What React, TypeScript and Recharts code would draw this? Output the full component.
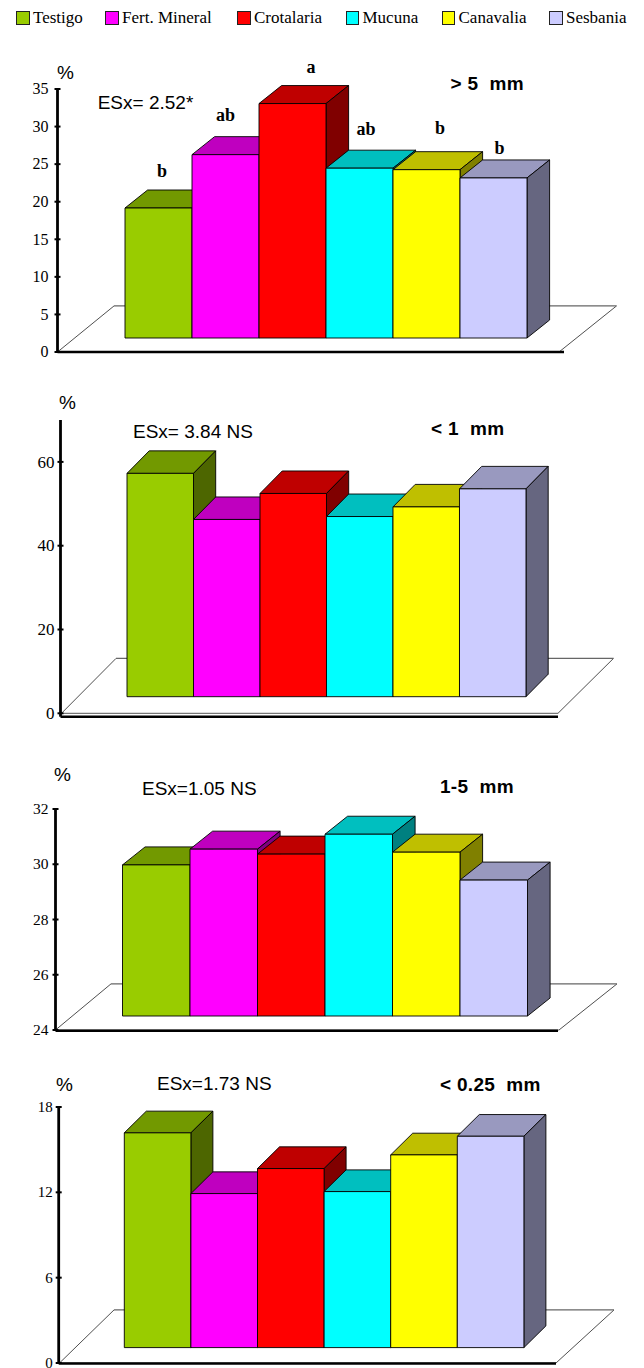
import React from 'react';
import { Bar, BarChart, LabelList, ReferenceArea, XAxis, YAxis } from 'recharts';

const seriesNames = ['Testigo', 'Fert. Mineral', 'Crotalaria', 'Mucuna', 'Canavalia', 'Sesbania'];
const frontColors = ['#99cc00', '#ff00ff', '#ff0000', '#00ffff', '#ffff00', '#ccccff'];
const topColors = ['#729900', '#bf00bf', '#bf0000', '#00bfbf', '#bfbf00', '#9999bf'];
const sideColors = ['#4d6600', '#800080', '#800000', '#008080', '#808000', '#666680'];

const over5mmValues = [17.3, 24.4, 31.2, 22.6, 22.4, 21.3];
const under1mmValues = [53.3, 42.3, 48.5, 43.0, 45.3, 49.6];
const from1to5mmValues = [29.47, 30.04, 29.86, 30.58, 29.93, 28.92];
const under025mmValues = [15.1, 10.83, 12.59, 10.97, 13.55, 14.86];

const over5mmTicks = [0, 5, 10, 15, 20, 25, 30, 35];
const under1mmTicks = [0, 20, 40, 60];
const from1to5mmTicks = [24, 26, 28, 30, 32];
const under025mmTicks = [0, 6, 12, 18];

const sigLetters = ['b', 'ab', 'a', 'ab', 'b', 'b'];
const sigOffsets = [[3.5, -18], [0, -21], [18.5, -18], [6.5, -20], [13.5, -23], [6, -11]];

const legendX = [16, 105, 237, 345.5, 441.5, 549];

const panels = [
  {
    values: over5mmValues, ticks: over5mmTicks, domain: [0, 35], floorTo: 6.13, axisX: 57.5, yTop: 89, yBottom: 352,
    barLeft: 124, barSize: 67, plotRight: 564, lift: 14, dx: 22.6, dy: 18, axisDrop: 0,
    floorFront: [57.5, 559], floorBack: [114, 616.5], tickFont: 16, tickGap: 9, sig: true,
    pct: [66, 72], es: 'ESx= 2.52*', esAt: [97.7, 102], title: '> 5 mm', titleAt: [450.5, 83],
  },
  {
    values: under1mmValues, ticks: under1mmTicks, domain: [0, 70], floorTo: 13.1, axisX: 60.5, yTop: 420, yBottom: 713.3,
    barLeft: 126, barSize: 66.5, plotRight: 558, lift: 16.6, dx: 22.2, dy: 22.5, axisDrop: 3.4,
    floorFront: [61.5, 558], floorBack: [116, 613.5], tickFont: 17, tickGap: 6, sig: false,
    pct: [68, 402], es: 'ESx= 3.84 NS', esAt: [133, 431], title: '< 1 mm', titleAt: [431, 428],
  },
  {
    values: from1to5mmValues, ticks: from1to5mmTicks, domain: [24, 32], floorTo: 25.67, axisX: 55.5, yTop: 809, yBottom: 1030,
    barLeft: 121.5, barSize: 67.5, plotRight: 558, lift: 14, dx: 22.6, dy: 18, axisDrop: 0.7,
    floorFront: [55.5, 559], floorBack: [111, 617], tickFont: 15.5, tickGap: 7, sig: false,
    pct: [63, 774], es: 'ESx=1.05 NS', esAt: [142, 788], title: '1-5 mm', titleAt: [440, 786],
  },
  {
    values: under025mmValues, ticks: under025mmTicks, domain: [0, 18], floorTo: 3.73, axisX: 58.7, yTop: 1106.7, yBottom: 1362.7,
    barLeft: 124.3, barSize: 66.6, plotRight: 556, lift: 15.4, dx: 22, dy: 21.7, axisDrop: 0.5,
    floorFront: [59.5, 556], floorBack: [114, 614], tickFont: 15, tickGap: 6, sig: false,
    pct: [65, 1084], es: 'ESx=1.73 NS', esAt: [157, 1083], title: '< 0.25 mm', titleAt: [440, 1084],
  },
];

const SERIF = '"Liberation Serif", serif';
const SANS = '"Liberation Sans", sans-serif';

const makeBox = (lift: number, dx: number, dy: number, i: number) => (props: any) => {
  const { x, y, width, height } = props;
  const top = y - lift;
  const base = y + height - lift;
  const right = x + width;
  return (
    <g stroke="#000" strokeWidth={0.9} strokeLinejoin="round">
      <polygon points={`${x},${top} ${x + dx},${top - dy} ${right + dx},${top - dy} ${right},${top}`} fill={topColors[i]} />
      <polygon points={`${right},${top} ${right + dx},${top - dy} ${right + dx},${base - dy} ${right},${base}`} fill={sideColors[i]} />
      <rect x={x} y={top} width={width} height={height} fill={frontColors[i]} />
    </g>
  );
};

const makeFloor = (front: number[], back: number[], axisX: number, drop: number) => (props: any) => {
  const { y, height } = props;
  const bottom = y + height;
  return (
    <g>
      <polygon points={`${front[0]},${bottom} ${back[0]},${y} ${back[1]},${y} ${front[1]},${bottom}`} fill="#fff" />
      <line x1={front[0]} y1={bottom} x2={back[0]} y2={y} stroke="#222" strokeWidth={0.8} />
      <line x1={front[1]} y1={bottom} x2={back[1]} y2={y} stroke="#222" strokeWidth={0.8} />
      <line x1={back[0]} y1={y} x2={back[1]} y2={y} stroke="#666" strokeWidth={1.2} />
      <line x1={front[0]} y1={bottom} x2={front[1]} y2={bottom} stroke="#777" strokeWidth={1.2} />
      <line x1={axisX} y1={bottom} x2={axisX} y2={bottom + drop} stroke="#000" strokeWidth={2.8} />
    </g>
  );
};

const makeTick = (axisX: number, gap: number, fontSize: number) => (props: any) => {
  const { y, payload } = props;
  return (
    <g>
      <line x1={axisX - 3} x2={axisX + 3} y1={y} y2={y} stroke="#000" strokeWidth={2} />
      <text x={axisX - gap} y={y + fontSize * 0.33} textAnchor="end" fontFamily={SERIF} fontSize={fontSize} fill="#000">
        {payload.value}
      </text>
    </g>
  );
};

const makeSig = (i: number, lift: number, dy: number) => (props: any) => {
  const { x, y, width } = props;
  return (
    <text
      x={x + width / 2 + sigOffsets[i][0]}
      y={y - lift - dy + sigOffsets[i][1] + 5}
      textAnchor="middle"
      fontFamily={SERIF}
      fontWeight="bold"
      fontSize={18}
      fill="#000"
    >
      {sigLetters[i]}
    </text>
  );
};

const Panel = ({ p }: { p: (typeof panels)[number] }) => {
  const top = p.yTop - 50;
  const height = p.yBottom - top + 12;
  const row: Record<string, any> = { name: p.title };
  seriesNames.forEach((n, i) => (row[n] = p.values[i]));
  // band has to be a bit wider than the six bars or recharts shrinks them
  const barRight = p.barLeft + p.barSize * 6 + 1;
  return (
    <div style={{ position: 'absolute', left: 0, top }}>
      <BarChart
        width={644}
        height={height}
        data={[row]}
        barGap={0}
        barCategoryGap={0}
        margin={{ top: 50, right: 644 - p.plotRight, bottom: 11, left: 0 }}
        style={{ overflow: 'visible' }}
      >
        <XAxis
          dataKey="name"
          height={1}
          tick={false}
          tickLine={false}
          axisLine={{ stroke: '#000', strokeWidth: 2.6, transform: `translate(0 ${p.axisDrop})` }}
          padding={{ left: p.barLeft - p.axisX, right: p.plotRight - barRight }}
        />
        <YAxis
          width={p.axisX}
          domain={p.domain}
          ticks={p.ticks}
          interval={0}
          tickLine={false}
          axisLine={{ stroke: '#000', strokeWidth: 2.8 }}
          tick={makeTick(p.axisX, p.tickGap, p.tickFont)}
        />
        <ReferenceArea y1={p.domain[0]} y2={p.floorTo} shape={makeFloor(p.floorFront, p.floorBack, p.axisX, p.axisDrop)} />
        {seriesNames.map((n, i) => (
          <Bar key={n} dataKey={n} barSize={p.barSize} isAnimationActive={false} shape={makeBox(p.lift, p.dx, p.dy, i)}>
            {p.sig ? <LabelList dataKey={n} content={makeSig(i, p.lift, p.dy)} /> : null}
          </Bar>
        ))}
      </BarChart>
    </div>
  );
};

const note = (text: string, x: number, y: number, style: React.CSSProperties) => (
  <span
    key={text + y}
    style={{ position: 'absolute', left: x, top: y, transform: 'translateY(-50%)', whiteSpace: 'pre', lineHeight: 1, ...style }}
  >
    {text}
  </span>
);

export default function App() {
  return (
    <div style={{ position: 'absolute', left: 0, top: 0, width: 644, height: 1368, background: '#fff', overflow: 'hidden' }}>
      {seriesNames.map((n, i) => (
        <div key={n} style={{ position: 'absolute', left: legendX[i], top: 11, height: 14, display: 'flex', alignItems: 'center' }}>
          <span style={{ width: 11.5, height: 11.5, background: frontColors[i], border: '1px solid #222', marginRight: 3.5, flex: 'none' }} />
          <span style={{ fontFamily: SERIF, fontSize: 17, color: '#000', whiteSpace: 'pre' }}>{n}</span>
        </div>
      ))}
      {panels.map((p) => (
        <Panel key={p.title} p={p} />
      ))}
      {panels.map((p) => (
        <React.Fragment key={p.title}>
          {note('%', p.pct[0] - 9, p.pct[1], { fontFamily: SANS, fontSize: 19 })}
          {note(p.es, p.esAt[0], p.esAt[1], { fontFamily: SANS, fontSize: 19 })}
          {note(p.title.replace(' mm', '  mm'), p.titleAt[0], p.titleAt[1], { fontFamily: SANS, fontSize: 19, fontWeight: 'bold', letterSpacing: 0.3 })}
        </React.Fragment>
      ))}
    </div>
  );
}
